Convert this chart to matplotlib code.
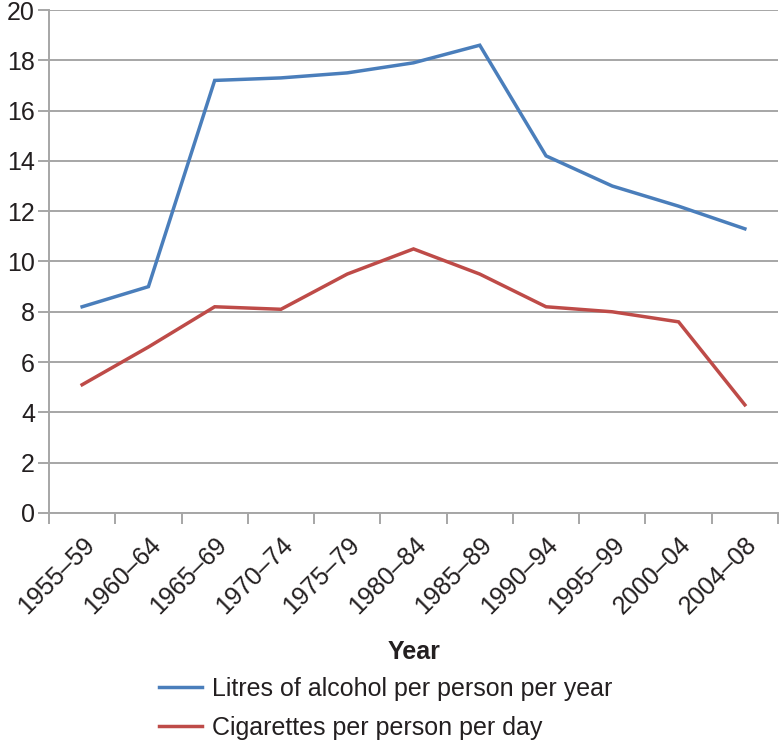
import numpy as np
import matplotlib.pyplot as plt
from matplotlib.lines import Line2D

# Period labels on the x axis
years = ['1955\u201359', '1960\u201364', '1965\u201369', '1970\u201374', '1975\u201379',
         '1980\u201384', '1985\u201389', '1990\u201394', '1995\u201399', '2000\u201304',
         '2004\u201308']

# Series values
alcohol = [8.2, 9.0, 17.2, 17.3, 17.5, 17.9, 18.6, 14.2, 13.0, 12.2, 11.3]
cigarettes = [5.1, 6.6, 8.2, 8.1, 9.5, 10.5, 9.5, 8.2, 8.0, 7.6, 4.3]

plt.rcParams['font.family'] = ['Liberation Sans', 'DejaVu Sans']

fig = plt.figure(figsize=(7.79, 7.41), dpi=100)
ax = fig.add_axes([0.0629, 0.3077, 0.9358, 0.6788])

x = np.arange(len(years))
ax.plot(x, alcohol, color='#4A7EBB', linewidth=2.5, solid_joinstyle='miter',
        label='Litres of alcohol per person per year')
ax.plot(x, cigarettes, color='#BE4B48', linewidth=2.5, solid_joinstyle='miter',
        label='Cigarettes per person per day')

ax.set_xlim(-0.5, len(years) - 0.5)
ax.set_ylim(0, 20)
ax.set_yticks(np.arange(0, 21, 2))
ax.yaxis.grid(True, color='#A6A6A6', linewidth=1.4)
ax.set_axisbelow(True)

# labels at category centres, tick marks on the boundaries
ax.set_xticks(x)
ax.set_xticklabels(years, rotation=45, ha='right', va='top', rotation_mode='anchor',
                   fontsize=18, color='#231F20')
ax.set_xticks(np.arange(-0.5, len(years)), minor=True)
ax.tick_params(axis='x', which='major', length=0, pad=14)
ax.tick_params(axis='x', which='minor', length=8, width=1.4, color='#A6A6A6', direction='out')
ax.tick_params(axis='y', length=8, width=1.4, color='#A6A6A6', labelsize=18,
               labelcolor='#231F20', pad=2)

for side in ['top', 'right']:
    ax.spines[side].set_visible(False)
for side in ['left', 'bottom']:
    ax.spines[side].set_color('#A6A6A6')
    ax.spines[side].set_linewidth(1.4)

fig.text(0.532, 0.12, 'Year', ha='center', va='center', fontsize=18,
         fontweight='bold', color='#231F20')

handles = [Line2D([], [], color='#4A7EBB', linewidth=2.5),
           Line2D([], [], color='#BE4B48', linewidth=2.5)]
fig.legend(handles, ['Litres of alcohol per person per year', 'Cigarettes per person per day'],
           loc='upper left', bbox_to_anchor=(0.1875, 0.1037), frameon=False, fontsize=18,
           handlelength=1.72, handletextpad=0.4, labelspacing=0.6, borderpad=0,
           labelcolor='#231F20')

fig.savefig('out.png', dpi=100)
